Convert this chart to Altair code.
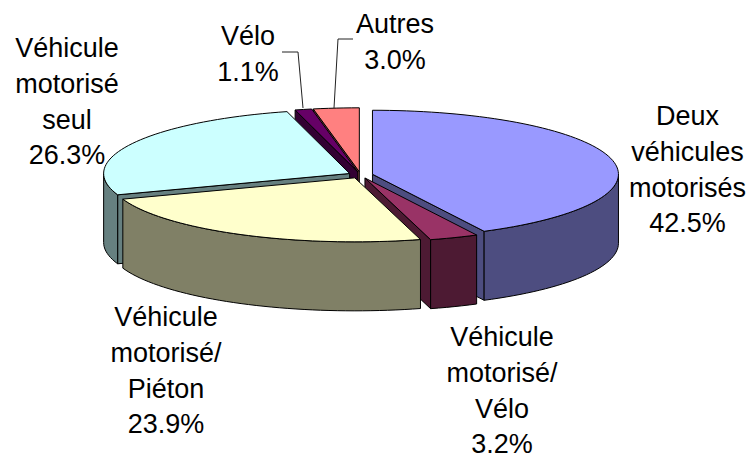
import math
import altair as alt

labels = ["Deux véhicules motorisés", "Véhicule motorisé/Vélo", "Véhicule motorisé/Piéton",
          "Véhicule motorisé seul", "Vélo", "Autres"]
shares = [42.5, 3.2, 23.9, 26.3, 1.1, 3.0]
top_colors = ["#9999FF", "#993366", "#FFFFCC", "#CCFFFF", "#660066", "#FF8080"]
wall_colors = ["#4D4D80", "#4D1A33", "#808066", "#668080", "#330033", "#804040"]
draw_order = [5, 4, 3, 0, 1, 2]

label_lines = [
    ["Deux", "véhicules", "motorisés", "42.5%"],
    ["Véhicule", "motorisé/", "Vélo", "3.2%"],
    ["Véhicule", "motorisé/", "Piéton", "23.9%"],
    ["Véhicule", "motorisé", "seul", "26.3%"],
    ["Vélo", "1.1%"],
    ["Autres", "3.0%"],
]
label_x = [687.5, 502, 166, 67, 248, 395]
label_top = [117, 338, 318, 49, 37, 25]
line_step = 35.8
font_size = 27
leader_ends = [None, None, None, None, (303, 108, 298, 52, 282, 52), (334, 108, 338, 39, 353, 39)]

CX, CY, RX, RY, DEPTH, EXPLODE = 360.5, 175, 246, 64, 69, 0.05
W, H = 738, 453
x_scale = alt.Scale(domain=[8, 8 + W], nice=False, zero=False)
y_scale = alt.Scale(domain=[8 + H, 8], nice=False, zero=False)


def polygon_layer(points, fill):
    rows = [{"px": round(p[0], 2), "py": round(p[1], 2), "i": i} for i, p in enumerate(points)]
    return alt.Chart(alt.Data(values=rows)).mark_line(
        interpolate="linear-closed", fill=fill, stroke="#000000", strokeWidth=1, strokeJoin="round"
    ).encode(
        x=alt.X("px:Q", scale=x_scale, axis=None),
        y=alt.Y("py:Q", scale=y_scale, axis=None),
        order="i:Q",
    )


def rim(ax, ay, t0, t1, dy=0.0):
    n = max(2, int(abs(t1 - t0) / 2) + 2)
    out = []
    for k in range(n):
        t = math.radians(t0 + (t1 - t0) * k / (n - 1))
        out.append((ax + RX * math.sin(t), ay - RY * math.cos(t) + dy))
    return out


layers = []
edges = [0.0]
for s in shares:
    edges.append(edges[-1] + s)
total = edges[-1]
for idx in draw_order:
    t0 = edges[idx] / total * 360
    t1 = edges[idx + 1] / total * 360
    mid = math.radians((t0 + t1) / 2)
    ax = CX + EXPLODE * RX * math.sin(mid)
    ay = CY - EXPLODE * RY * math.cos(mid)
    wall = wall_colors[idx]
    # radial faces that look towards the viewer
    faces = ([t0] if t0 > 180 else []) + ([t1] if t1 < 180 else [])
    for t in faces:
        r = rim(ax, ay, t, t)[0]
        layers.append(polygon_layer([(ax, ay), r, (r[0], r[1] + DEPTH), (ax, ay + DEPTH)], wall))
    # outer curved wall (front half only)
    v0, v1 = max(t0, 90), min(t1, 270)
    if v1 > v0:
        upper = rim(ax, ay, v0, v1)
        lower = rim(ax, ay, v1, v0, DEPTH)
        layers.append(polygon_layer(upper + lower, wall))
    layers.append(polygon_layer([(ax, ay)] + rim(ax, ay, t0, t1), top_colors[idx]))

for seg in leader_ends:
    if seg:
        rows = [{"px": seg[j], "py": seg[j + 1], "i": j} for j in (0, 2, 4)]
        layers.append(
            alt.Chart(alt.Data(values=rows)).mark_line(color="#222222", strokeWidth=1).encode(
                x=alt.X("px:Q", scale=x_scale, axis=None),
                y=alt.Y("py:Q", scale=y_scale, axis=None),
                order="i:Q",
            )
        )

text_rows = []
for lines, x, top in zip(label_lines, label_x, label_top):
    for n, line in enumerate(lines):
        text_rows.append({"px": x, "py": top + n * line_step, "t": line})
layers.append(
    alt.Chart(alt.Data(values=text_rows)).mark_text(
        font="Liberation Sans", fontSize=font_size, color="#000000", align="center", baseline="middle"
    ).encode(
        x=alt.X("px:Q", scale=x_scale, axis=None),
        y=alt.Y("py:Q", scale=y_scale, axis=None),
        text="t:N",
    )
)

chart = alt.layer(*layers).properties(
    width=W, height=H, padding=0, autosize=alt.AutoSizeParams(type="none")
).configure_view(stroke=None)
chart.save("out.html", embed_options={"renderer": "svg", "actions": False})
